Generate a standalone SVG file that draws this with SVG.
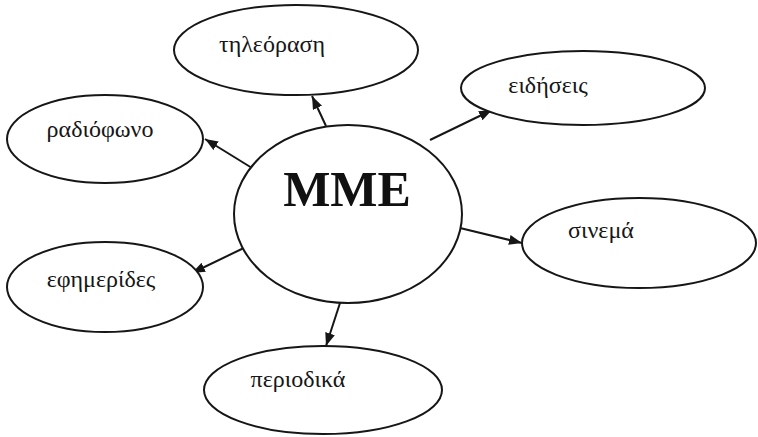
<svg xmlns="http://www.w3.org/2000/svg" width="758" height="437" viewBox="0 0 758 437">
  <style>
    .node ellipse { fill: #ffffff; stroke: #161616; stroke-width: 2; }
    .label { font-family: "Liberation Serif", "Times New Roman", serif; font-size: 24px; fill: #161616; }
    .title { font-family: "Liberation Serif", "Times New Roman", serif; font-size: 50px; font-weight: bold; fill: #111111; }
    .edge { stroke: #161616; stroke-width: 2; fill: none; marker-end: url(#arrow); }
  </style>
  <defs>
    <marker id="arrow" markerUnits="userSpaceOnUse" markerWidth="14" markerHeight="12" refX="13" refY="5" orient="auto">
      <path d="M0,0 L13,5 L0,10 Z" fill="#161616"/>
    </marker>
  </defs>
  <rect width="758" height="437" fill="#ffffff"/>

  <g id="connectors">
    <line class="edge" x1="326" y1="126" x2="312" y2="96"/>
    <line class="edge" x1="252" y1="168" x2="205" y2="139"/>
    <line class="edge" x1="430" y1="140" x2="492" y2="110"/>
    <line class="edge" x1="460" y1="228" x2="522" y2="243"/>
    <line class="edge" x1="250" y1="245" x2="192" y2="273"/>
    <line class="edge" x1="340" y1="303" x2="326" y2="346"/>
  </g>

  <g id="node-mme" class="node">
    <ellipse cx="348" cy="214" rx="114" ry="89"/>
    <text class="title" x="347" y="206" text-anchor="middle">MME</text>
  </g>

  <g id="node-tileorasi" class="node">
    <ellipse cx="296" cy="50" rx="122" ry="45"/>
    <text class="label" x="272" y="52" text-anchor="middle">τηλεόραση</text>
  </g>

  <g id="node-radiofono" class="node">
    <ellipse cx="105" cy="139" rx="98" ry="44"/>
    <text class="label" x="100" y="137" text-anchor="middle">ραδιόφωνο</text>
  </g>

  <g id="node-eidiseis" class="node">
    <ellipse cx="583" cy="88" rx="122" ry="37"/>
    <text class="label" x="548" y="93" text-anchor="middle">ειδήσεις</text>
  </g>

  <g id="node-sinema" class="node">
    <ellipse cx="639" cy="243" rx="117" ry="45"/>
    <text class="label" x="601" y="238" text-anchor="middle">σινεμά</text>
  </g>

  <g id="node-efimerides" class="node">
    <ellipse cx="105" cy="287" rx="98" ry="45"/>
    <text class="label" x="101" y="287" text-anchor="middle">εφημερίδες</text>
  </g>

  <g id="node-periodika" class="node">
    <ellipse cx="323" cy="390" rx="119" ry="44"/>
    <text class="label" x="298" y="387" text-anchor="middle">περιοδικά</text>
  </g>
</svg>
